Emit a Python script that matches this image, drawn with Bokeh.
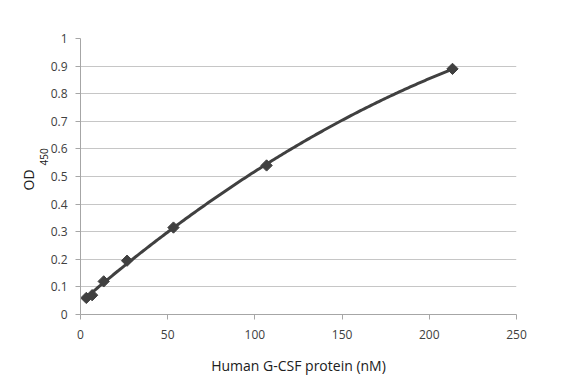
import numpy as np
from bokeh.plotting import figure
from bokeh.models import Title, Range1d, FixedTicker
from bokeh.embed import file_html
from bokeh.resources import INLINE

# data
conc_nM = [3.33, 6.67, 13.3, 26.7, 53.3, 106.7, 213.3]
od450 = [0.06, 0.07, 0.12, 0.195, 0.315, 0.54, 0.89]
x_ticks = [0, 50, 100, 150, 200, 250]
y_ticks = [0, 0.1, 0.2, 0.3, 0.4, 0.5, 0.6, 0.7, 0.8, 0.9, 1]
x_label = "Human G-CSF protein (nM)"

FONT = "Open Sans"
DARK = "#404040"

p = figure(width=566, height=378, output_backend="svg", toolbar_location=None,
           x_range=Range1d(0, 250), y_range=Range1d(0, 1),
           min_border_left=80, min_border_right=50, min_border_top=38, min_border_bottom=64)
p.outline_line_color = None
p.background_fill_color = "white"

# trendline (2nd order polynomial fit of the data)
coef = np.polyfit(conc_nM, od450, 2)
xs = np.linspace(conc_nM[0], conc_nM[-1], 200)
p.line(xs, np.polyval(coef, xs), line_color=DARK, line_width=3)
p.scatter(conc_nM, od450, marker="square", angle=np.pi / 4, size=8,
          fill_color=DARK, line_color=DARK)

for ax, ticks in ((p.xaxis, x_ticks), (p.yaxis, y_ticks)):
    ax.ticker = FixedTicker(ticks=ticks)
    ax.axis_line_color = "#a6a6a6"
    ax.major_tick_line_color = "#a6a6a6"
    ax.major_tick_out = 5
    ax.major_tick_in = 0
    ax.minor_tick_line_color = None
    ax.major_label_text_font = FONT
    ax.major_label_text_font_size = "12px"
    ax.major_label_text_color = "#404040"
p.yaxis.major_label_overrides = {0: "0", 1: "1"}
p.xaxis.major_label_standoff = 10
p.yaxis.major_label_standoff = 8

p.xaxis.axis_label = x_label
p.xaxis.axis_label_text_font = FONT
p.xaxis.axis_label_text_font_size = "14px"
p.xaxis.axis_label_text_font_style = "normal"
p.xaxis.axis_label_text_color = "#202020"
p.xaxis.axis_label_standoff = 14

p.xgrid.grid_line_color = None
p.ygrid.grid_line_color = "#c6c6c6"

p.add_layout(Title(text="450", align="left", offset=149, text_font=FONT,
                   text_font_size="10px", text_font_style="normal",
                   text_color="#202020", standoff=0), "left")
p.add_layout(Title(text="OD", align="left", offset=124, text_font=FONT,
                   text_font_size="14px", text_font_style="normal",
                   text_color="#202020", standoff=0), "left")

open("out.html", "w").write(file_html(p, INLINE))
